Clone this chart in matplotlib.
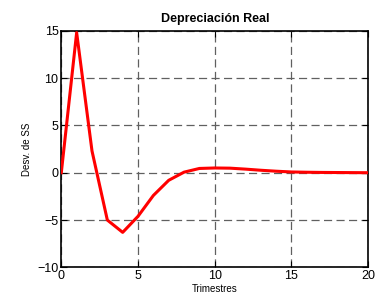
import matplotlib
matplotlib.use("Agg")
import matplotlib.pyplot as plt

plt.rcParams['font.family'] = ['Liberation Sans', 'DejaVu Sans']

trimestres = list(range(21))
desv = [0, 14.8, 2.3, -5.0, -6.3, -4.6, -2.4, -0.8, 0.06, 0.45, 0.5, 0.48,
        0.38, 0.26, 0.16, 0.08, 0.05, 0.03, 0.02, 0.01, 0.0]

fig = plt.figure(figsize=(3.88, 3.07), dpi=100)
ax = fig.add_axes([0.158, 0.129, 0.791, 0.771])
ax.plot(trimestres, desv, color='#ff0000', linewidth=2.2, zorder=3)

ax.set_xlim(0, 20)
ax.set_ylim(-10, 15)
ax.set_xticks([0, 5, 10, 15, 20])
ax.set_yticks([-10, -5, 0, 5, 10, 15])
ax.grid(True, color='#606060', linestyle=(0, (6.5, 3.5)), linewidth=0.9)
ax.tick_params(direction='in', top=True, right=True, labelsize=9, length=4, pad=2)
for s in ax.spines.values():
    s.set_linewidth(1.2)

ax.set_title("Depreciación Real", fontsize=9, fontweight='bold', pad=6)
ax.set_xlabel("Trimestres", fontsize=7, labelpad=1)
ax.set_ylabel("Desv. de SS", fontsize=7, labelpad=4)

fig.savefig("out.png", dpi=100)
